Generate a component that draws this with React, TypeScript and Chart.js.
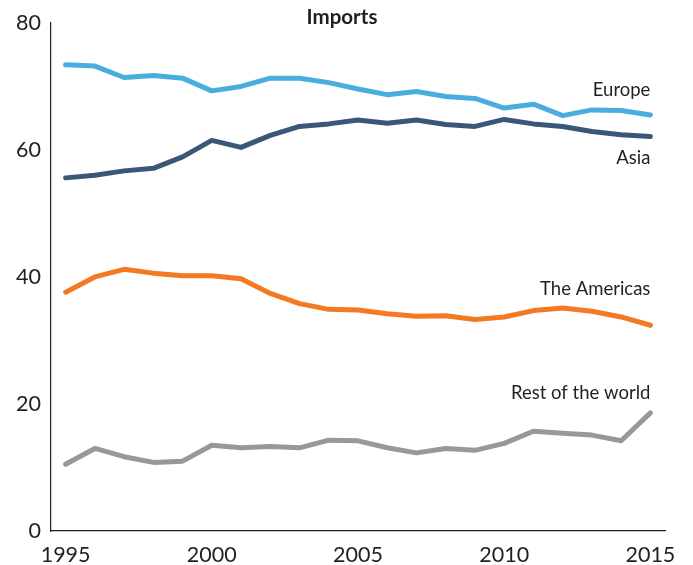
import React, { useEffect, useRef } from "react";
import { Chart, registerables } from "chart.js";

Chart.register(...registerables);

const years = [1995, 1996, 1997, 1998, 1999, 2000, 2001, 2002, 2003, 2004, 2005, 2006, 2007, 2008, 2009, 2010, 2011, 2012, 2013, 2014, 2015];
const europe = [73.4, 73.2, 71.4, 71.7, 71.3, 69.3, 70.0, 71.3, 71.3, 70.6, 69.6, 68.7, 69.2, 68.4, 68.1, 66.6, 67.2, 65.4, 66.3, 66.2, 65.5];
const asia = [55.6, 56.0, 56.7, 57.1, 58.9, 61.5, 60.4, 62.3, 63.7, 64.1, 64.7, 64.2, 64.7, 64.0, 63.7, 64.8, 64.1, 63.7, 62.9, 62.4, 62.1];
const americas = [37.6, 40.0, 41.2, 40.6, 40.2, 40.2, 39.7, 37.4, 35.8, 34.9, 34.8, 34.2, 33.8, 33.9, 33.3, 33.7, 34.7, 35.1, 34.6, 33.7, 32.4];
const restOfWorld = [10.5, 13.0, 11.7, 10.8, 11.0, 13.5, 13.1, 13.3, 13.1, 14.3, 14.2, 13.1, 12.3, 13.0, 12.7, 13.8, 15.7, 15.4, 15.1, 14.2, 18.6];
const seriesNames = ["Europe", "Asia", "The Americas", "Rest of the world"];
const yTicks = [0, 20, 40, 60, 80];
const chartTitle = "Imports";

const colors = ["#49AEDF", "#3A5777", "#F37A21", "#98989C"];
// baseline offsets (px) of end labels relative to each line's last point
const labelOffsets = [-19, 27, -30, -14];

const FONT = "Lato, 'Open Sans', sans-serif";

export default function App() {
  const ref = useRef<HTMLCanvasElement | null>(null);

  useEffect(() => {
    document.body.style.margin = "0";
    const canvas = ref.current!;
    const seriesData = [europe, asia, americas, restOfWorld];

    const labelPlugin = {
      id: "endLabels",
      afterDatasetsDraw(chart: any) {
        const ctx = chart.ctx;
        const xs = chart.scales.x;
        const ys = chart.scales.y;
        ctx.save();
        ctx.fillStyle = "#231f20";
        ctx.font = `18.5px ${FONT}`;
        ctx.textAlign = "right";
        ctx.textBaseline = "alphabetic";
        seriesNames.forEach((name, i) => {
          const d = seriesData[i];
          const last = d.length - 1;
          const px = xs.getPixelForValue(last);
          const py = ys.getPixelForValue(d[last]);
          ctx.fillText(name, px, py + labelOffsets[i]);
        });
        ctx.font = `bold 20.5px ${FONT}`;
        ctx.textAlign = "center";
        ctx.fillText(chartTitle, 342, 24);
        ctx.restore();
      },
    };

    const chart = new Chart(canvas, {
      type: "line",
      data: {
        labels: years.map(String),
        datasets: seriesData.map((d, i) => ({
          label: seriesNames[i],
          data: d,
          borderColor: colors[i],
          backgroundColor: colors[i],
          borderWidth: 5,
          pointRadius: 0,
          borderCapStyle: "round" as const,
          borderJoinStyle: "round" as const,
          tension: 0,
          fill: false,
        })),
      },
      options: {
        animation: false,
        responsive: false,
        maintainAspectRatio: false,
        layout: { padding: { top: 21, right: 28, left: 0, bottom: 0 } },
        plugins: {
          legend: { display: false },
          title: { display: false },
          tooltip: { enabled: false },
        },
        scales: {
          x: {
            type: "category",
            offset: true,
            grid: { display: false, drawTicks: false },
            border: { display: true, color: "#231f20", width: 1.2 },
            ticks: {
              autoSkip: false,
              maxRotation: 0,
              padding: 11,
              color: "#231f20",
              font: { family: FONT, size: 21.5 },
              callback: (_v: any, idx: number) => (years[idx] % 5 === 0 ? String(years[idx]) : ""),
            },
            afterFit: (s: any) => {
              s.height = 34;
            },
          },
          y: {
            min: 0,
            max: 80,
            afterBuildTicks: (s: any) => {
              s.ticks = yTicks.map((v) => ({ value: v }));
            },
            grid: { display: false, drawTicks: false },
            border: { display: true, color: "#231f20", width: 1.2 },
            ticks: {
              padding: 10,
              color: "#231f20",
              font: { family: FONT, size: 21.5 },
            },
            afterFit: (s: any) => {
              s.width = 51;
            },
          },
        },
      },
      plugins: [labelPlugin],
    });
    return () => chart.destroy();
  }, []);

  return <canvas ref={ref} width={693} height={565} style={{ display: "block" }} />;
}
